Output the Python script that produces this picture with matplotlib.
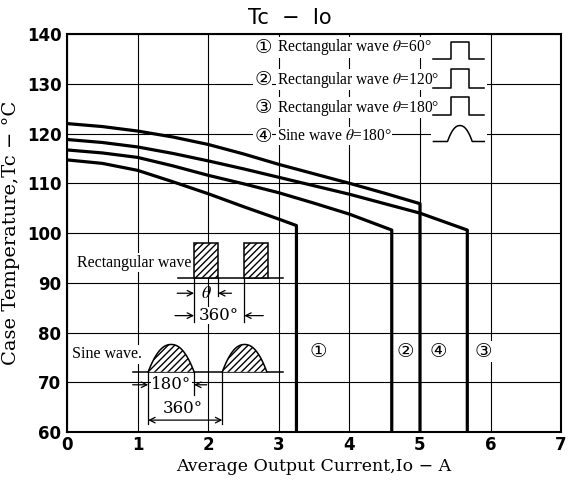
import numpy as np
import matplotlib
matplotlib.use("Agg")
import matplotlib.pyplot as plt
from matplotlib.patches import Polygon

# ---- data ----
curve1_x = [0, 0.5, 1, 1.5, 2, 2.5, 3, 3.25, 3.25]
curve1_y = [114.7, 114.0, 112.6, 110.3, 107.9, 105.3, 102.8, 101.5, 60]
curve2_x = [0, 0.5, 1, 1.5, 2, 2.5, 3, 3.5, 4, 4.6, 4.6]
curve2_y = [116.7, 116.1, 115.2, 113.5, 111.6, 109.9, 108.1, 106.0, 103.8, 100.6, 60]
curve3_x = [0, 0.5, 1, 1.5, 2, 2.5, 3, 3.5, 4, 4.5, 5, 5.67, 5.67]
curve3_y = [118.8, 118.2, 117.3, 116.0, 114.5, 112.9, 111.2, 109.5, 107.8, 105.9, 104.0, 100.6, 60]
curve4_x = [0, 0.5, 1, 1.5, 2, 2.5, 3, 3.5, 4, 4.5, 5.0, 5.0]
curve4_y = [122.0, 121.4, 120.5, 119.3, 117.8, 115.9, 113.8, 111.9, 110.0, 108.0, 105.9, 60]

curve_labels = ["\u2460", "\u2461", "\u2463", "\u2462"]
label_x = [3.56, 4.79, 5.26, 5.90]
legend_nums = ["\u2460", "\u2461", "\u2462", "\u2463"]
legend_texts = ["Rectangular wave $\\theta$=60\u00b0",
                "Rectangular wave $\\theta$=120\u00b0",
                "Rectangular wave $\\theta$=180\u00b0",
                "Sine wave $\\theta$=180\u00b0"]
xticks = [0, 1, 2, 3, 4, 5, 6, 7]
yticks = [60, 70, 80, 90, 100, 110, 120, 130, 140]

serif = ['Liberation Serif', 'DejaVu Serif', 'DejaVu Sans']
wide_serif = ['DejaVu Serif']
plt.rcParams['mathtext.fontset'] = 'stix'

fig = plt.figure(figsize=(5.68, 4.86), dpi=100)
ax = fig.add_axes([0.118, 0.111, 0.870, 0.819])
ax.set_xlim(0, 7)
ax.set_ylim(60, 140)
ax.set_xticks(xticks)
ax.set_yticks(yticks)
ax.grid(True, color='black', lw=0.8)
ax.set_axisbelow(True)
for s in ax.spines.values():
    s.set_linewidth(1.5)
ax.tick_params(length=0, labelsize=12)
ax.tick_params(axis='y', pad=4)
ax.tick_params(axis='x', pad=3)
for lab in ax.get_xticklabels() + ax.get_yticklabels():
    lab.set_fontweight('bold')

lw = 2.3
for cx, cy in [(curve1_x, curve1_y), (curve2_x, curve2_y),
               (curve3_x, curve3_y), (curve4_x, curve4_y)]:
    ax.plot(cx, cy, color='black', lw=lw, solid_joinstyle='round', zorder=3)

for lx, lt in zip(label_x, curve_labels):
    ax.text(lx, 76.2, lt, fontsize=14, family=['DejaVu Sans'], ha='center', va='center',
            bbox=dict(facecolor='white', edgecolor='none', pad=0.5), zorder=4)

# legend
leg_y = [137.3, 130.8, 125.2, 119.5]
for ly, n, t in zip(leg_y, legend_nums, legend_texts):
    ax.text(2.65, ly, n, fontsize=14, family=['DejaVu Sans'], ha='left', va='center',
            bbox=dict(facecolor='white', edgecolor='none', pad=0.5), zorder=4)
    ax.text(2.97, ly, t, fontsize=11.2, family=serif, ha='left', va='center',
            bbox=dict(facecolor='white', edgecolor='none', pad=0.5), zorder=4)

# legend icons
base_y = [134.9, 129.2, 123.8, 118.4]
top_y = [138.3, 133.0, 127.4, 121.6]
ix0, ix1, ir, iff = 5.19, 5.91, 5.44, 5.69
for i in range(3):
    ax.add_patch(plt.Rectangle((5.15, base_y[i] - 0.5), 0.8, top_y[i] - base_y[i] + 2,
                               facecolor='white', edgecolor='none', zorder=3))
    ax.plot([ix0, ir, ir, iff, iff, ix1],
            [base_y[i], base_y[i], top_y[i], top_y[i], base_y[i], base_y[i]],
            color='black', lw=1.1, zorder=4)
ax.add_patch(plt.Rectangle((5.15, base_y[3] - 0.5), 0.8, top_y[3] - base_y[3] + 2,
                           facecolor='white', edgecolor='none', zorder=3))
t = np.linspace(0, 1, 50)
sx = ir - 0.05 + t * 0.35
sy = base_y[3] + (top_y[3] - base_y[3]) * (1 - np.abs(2 * t - 1) ** 2.2)
ax.plot(np.concatenate([[ix0], sx, [ix1]]),
        np.concatenate([[base_y[3]], sy, [base_y[3]]]), color='black', lw=1.1, zorder=4)

# ---- rectangular wave inset ----
arrow = dict(arrowstyle='->', color='black', lw=0.9, shrinkA=0, shrinkB=0)
ax.text(0.14, 94.0, "Rectangular wave", fontsize=11.5, family=serif,
        ha='left', va='center', bbox=dict(facecolor='white', edgecolor='none', pad=1), zorder=4)
rb, rt = 90.9, 98.0
ax.plot([1.57, 3.06], [rb, rb], color='black', lw=1.1, zorder=4)
for p0, p1 in [(1.80, 2.14), (2.51, 2.85)]:
    ax.add_patch(Polygon([[p0, rb], [p0, rt], [p1, rt], [p1, rb]], closed=True,
                         facecolor='white', edgecolor='black', hatch='/////', lw=1.1, zorder=4))
ax.plot([1.80, 1.80], [rb, 82.2], color='black', lw=0.9, zorder=4)
ax.plot([2.14, 2.14], [rb, 87.3], color='black', lw=0.9, zorder=4)
ax.plot([2.51, 2.51], [rb, 82.2], color='black', lw=0.9, zorder=4)
ax.annotate('', xy=(1.80, 87.9), xytext=(1.56, 87.9), arrowprops=arrow, zorder=4)
ax.annotate('', xy=(2.14, 87.9), xytext=(2.33, 87.9), arrowprops=arrow, zorder=4)
ax.text(1.97, 87.9, "$\\theta$", fontsize=13, ha='center', va='center', zorder=4)
ax.annotate('', xy=(1.80, 83.4), xytext=(1.53, 83.4), arrowprops=arrow, zorder=4)
ax.annotate('', xy=(2.51, 83.4), xytext=(2.78, 83.4), arrowprops=arrow, zorder=4)
ax.text(2.15, 83.4, "360\u00b0", fontsize=12, family=wide_serif, ha='center', va='center',
        bbox=dict(facecolor='white', edgecolor='none', pad=0.3), zorder=4)

# ---- sine wave inset ----
ax.text(0.07, 75.6, "Sine wave.", fontsize=11.5, family=serif,
        ha='left', va='center', bbox=dict(facecolor='white', edgecolor='none', pad=1), zorder=4)
sb, st = 72.1, 77.6
ax.plot([0.93, 3.06], [sb, sb], color='black', lw=1.1, zorder=4)
tt = np.linspace(0, 1, 80)
shape = 1 - np.abs(2 * tt - 1) ** 2.2
for h0, h1 in [(1.15, 1.80), (2.20, 2.83)]:
    hx = h0 + tt * (h1 - h0)
    hy = sb + (st - sb) * shape
    ax.add_patch(Polygon(np.column_stack([hx, hy]), closed=True, facecolor='white',
                         edgecolor='black', hatch='/////', lw=0, zorder=4))
    ax.plot(hx, hy, color='black', lw=1.1, zorder=4)
ax.plot([1.15, 1.15], [sb, 61.6], color='black', lw=0.9, zorder=4)
ax.plot([1.80, 1.80], [sb, 67.5], color='black', lw=0.9, zorder=4)
ax.plot([2.20, 2.20], [sb, 61.6], color='black', lw=0.9, zorder=4)
ax.annotate('', xy=(1.15, 69.5), xytext=(0.93, 69.5), arrowprops=arrow, zorder=4)
ax.annotate('', xy=(1.80, 69.5), xytext=(1.98, 69.5), arrowprops=arrow, zorder=4)
ax.text(1.48, 69.5, "180\u00b0", fontsize=12, family=wide_serif, ha='center', va='center',
        bbox=dict(facecolor='white', edgecolor='none', pad=0.3), zorder=4)
ax.annotate('', xy=(1.15, 62.4), xytext=(2.20, 62.4),
            arrowprops=dict(arrowstyle='<->', color='black', lw=0.9, shrinkA=0, shrinkB=0), zorder=4)
ax.text(1.64, 64.8, "360\u00b0", fontsize=12, family=wide_serif, ha='center', va='center',
        zorder=4)

fig.text(0.51, 0.963, "Tc  \u2212  Io", fontsize=15, ha='center', va='center')
ax.set_xlabel("Average Output Current,Io \u2212 A", fontsize=12.5, family=wide_serif, labelpad=3)
ax.set_ylabel("Case Temperature,Tc \u2212 \u00b0C", fontsize=14, family=wide_serif, labelpad=5)

fig.savefig("out.png", dpi=100)
